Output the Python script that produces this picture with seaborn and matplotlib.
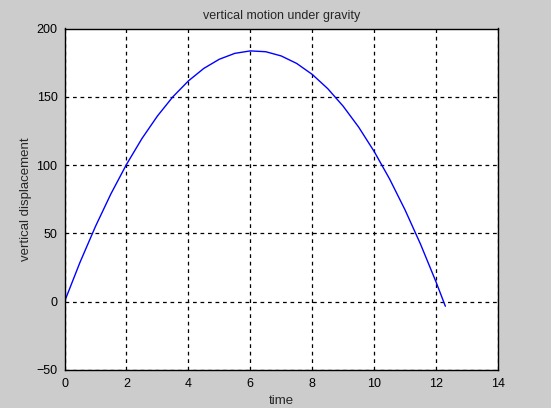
import matplotlib
matplotlib.use("Agg")
import matplotlib.pyplot as plt
import seaborn as sns
import pandas as pd

time = [0, 0.5, 1, 1.5, 2, 2.5, 3, 3.5, 4, 4.5, 5, 5.5, 6, 6.5, 7, 7.5, 8,
        8.5, 9, 9.5, 10, 10.5, 11, 11.5, 12, 12.3]
displacement = [0, 28.8, 55.1, 79.0, 100.4, 119.4, 135.9, 150.0, 161.6, 170.8,
                177.5, 181.8, 183.6, 183.0, 179.9, 174.4, 166.4, 156.0, 143.1,
                127.8, 110.0, 89.8, 67.1, 42.0, 14.4, -3.3]
x_ticks = [0, 2, 4, 6, 8, 10, 12, 14]
y_ticks = [-50, 0, 50, 100, 150, 200]

sns.set_style("white")
plt.rcParams['font.family'] = ['Liberation Sans', 'DejaVu Sans']

df = pd.DataFrame({"time": time, "disp": displacement})

fig = plt.figure(figsize=(5.51, 4.08), dpi=100, facecolor="#cccccc")
ax = fig.add_axes([64.5 / 551, 38 / 408, 433.5 / 551, 341.5 / 408])
ax.set_facecolor("white")

sns.lineplot(data=df, x="time", y="disp", ax=ax, color="#0000ff", linewidth=1.0,
             sort=False)

ax.set_xlim(0, 14)
ax.set_ylim(-50, 200)
ax.set_xticks(x_ticks)
ax.set_yticks(y_ticks)
ax.grid(True, color="black", linestyle=(0, (3, 3)), linewidth=0.9)
ax.set_axisbelow(True)
for s in ax.spines.values():
    s.set_color("black")
    s.set_linewidth(1.0)
    s.set_visible(True)
ax.tick_params(axis="both", direction="in", length=4, width=0.8, colors="black",
               labelsize=9)
ax.tick_params(axis="x", pad=6)
ax.tick_params(axis="y", pad=5)

ax.set_xlabel("time", fontsize=9.5, labelpad=3)
ax.set_ylabel("vertical displacement", fontsize=9.5, labelpad=3)
ax.set_title("vertical motion under gravity", fontsize=9, pad=7)

fig.savefig("out.png", dpi=100, facecolor=fig.get_facecolor())
